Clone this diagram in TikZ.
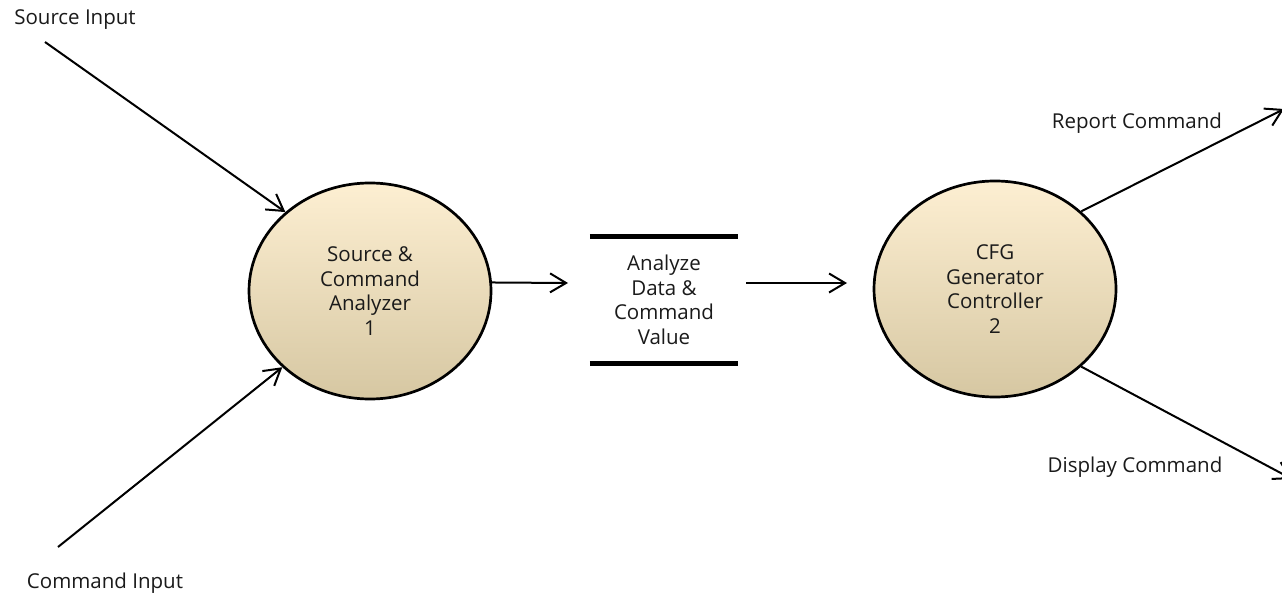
\documentclass[tikz,border=0pt]{standalone}
\usepackage{fontspec}
\setmainfont{Open Sans}
\usetikzlibrary{arrows.meta,shapes.geometric}
\definecolor{cTop}{HTML}{FDEFD2}
\definecolor{cMid}{HTML}{F2EBD8}
\definecolor{cBot}{HTML}{D6C7A2}
\definecolor{txt}{HTML}{1A1A1A}
\newcommand\dfont{\fontsize{20.5}{24.5}\selectfont}
\begin{document}
\begin{tikzpicture}[x=1pt,y=1pt,
  proc/.style={ellipse, draw, line width=2.7pt, minimum width=242pt, minimum height=216pt,
    top color=cTop, middle color=cMid, bottom color=cBot, align=center, font=\dfont,
    text=txt, inner sep=0pt},
  store/.style={minimum width=148pt, minimum height=126pt, align=center, font=\dfont,
    text=txt, inner sep=0pt},
  bar/.style={line width=5pt},
  arr/.style={line width=2pt, -{Straight Barb[length=16pt,width=19pt,line width=2pt]}},
  lbl/.style={font=\dfont, text=txt, inner sep=0pt}]
\clip (0,0) rectangle (1282,-594);
\fill[white] (0,0) rectangle (1282,-594);

\node[proc] (e1) at (370,-291) {Source \&\\Command\\Analyzer\\1};
\node[proc] (e2) at (995,-289) {CFG\\Generator\\Controller\\2};
\node[store] (st) at (664,-300) {Analyze\\Data \&\\Command\\Value};
\draw[bar] (st.north west) -- (st.north east);
\draw[bar] (st.south west) -- (st.south east);

\coordinate (sIn) at (45,-42);
\coordinate (cIn) at (58,-547);
\coordinate (a1) at (568,-283);
\coordinate (b0) at (746,-283);
\coordinate (b1) at (847,-283);
\coordinate (rOut) at (1284,-109);
\coordinate (dOut) at (1292,-479);

\draw[arr] (sIn) -- (e1.137);
\draw[arr] (cIn) -- (e1.221);
\draw[arr] (e1.4) -- (a1);
\draw[arr] (b0) -- (b1);
\draw[arr] (e2.42) -- (rOut);
\draw[arr] (e2.-42) -- (dOut);

\node[lbl] (lsrc) at (75,-20) {Source Input};
\node[lbl] (lcmd) at (105,-583) {Command Input};
\node[lbl] (lrep) at (1137,-123) {Report Command};
\node[lbl] (ldis) at (1135,-467) {Display Command};
\end{tikzpicture}
\end{document}
